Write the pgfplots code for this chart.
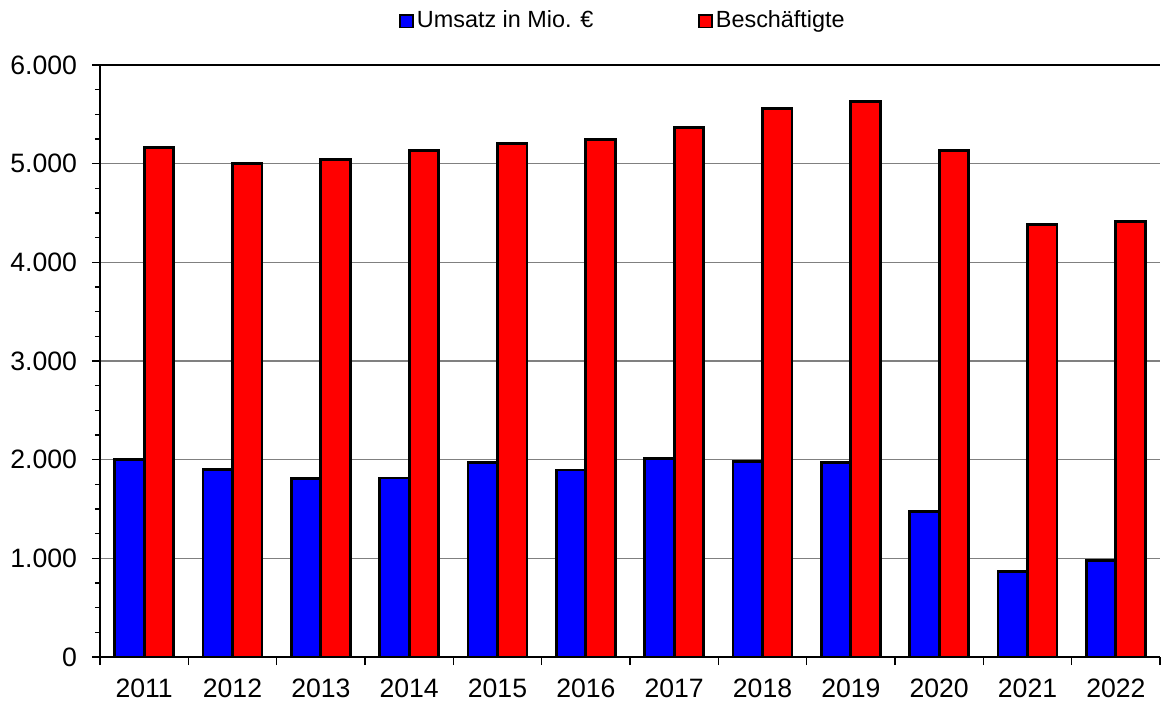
\documentclass[border=0pt]{standalone}
\usepackage{pgfplots}
\pgfplotsset{compat=1.18}
\usepackage{fontspec}
\setmainfont{Liberation Sans}
\pgfplotsset{sqlegend/.style={legend image code/.code={\draw[##1, draw=black, line width=0.9pt] (0pt,-3.2pt) rectangle (6.4pt,3.2pt);}}}
\begin{document}
\begin{tikzpicture}
\useasboundingbox (0pt,0pt) rectangle (582.5pt,351pt);
\begin{axis}[
  at={(50pt,22.5pt)}, anchor=south west,
  scale only axis, width=530pt, height=296pt,
  ybar=0pt, bar width=0.334,
  xmin=-0.5, xmax=11.5, ymin=0, ymax=6000,
  axis lines*=left, axis line style={-, line width=0.8pt},
  tick align=outside,
  xtick={-0.5,0.5,1.5,2.5,3.5,4.5,5.5,6.5,7.5,8.5,9.5,10.5,11.5},
  xticklabels={},
  extra x ticks={0,1,2,3,4,5,6,7,8,9,10,11},
  extra x tick labels={2011,2012,2013,2014,2015,2016,2017,2018,2019,2020,2021,2022},
  extra x tick style={major tick length=0pt, grid=none},
  ytick={0,1000,2000,3000,4000,5000,6000},
  minor y tick num=3,
  major tick length=4pt, minor tick length=2.5pt,
  ymajorgrids, grid style={gray, line width=0.6pt},
  tick style={black, line width=0.8pt},
  scaled y ticks=false,
  /pgf/number format/.cd, 1000 sep={.}, assume math mode=true,
  /pgfplots/.cd,
  ticklabel style={font=\fontsize{13.3}{16}\selectfont},
  xticklabel style={yshift=-7.5pt},
  yticklabel style={xshift=-4pt},
  legend style={at={(0.282,1.0743)}, anchor=west, draw=none, fill=none,
    inner sep=0pt, font=\fontsize{11.7}{13}\selectfont,
    nodes={inner xsep=1.5pt, inner ysep=1pt},
    /tikz/every even column/.append style={column sep=51pt}},
  legend columns=2, legend cell align=left,
]
\addplot[fill={rgb,255:red,0;green,0;blue,255}, draw=black, line width=1.4pt, sqlegend]
  coordinates {(0,2000) (1,1900) (2,1810) (3,1815) (4,1970) (5,1895) (6,2010) (7,1978) (8,1975) (9,1472) (10,864) (11,976)};
\addlegendentry{Umsatz in Mio. €}
\addplot[fill={rgb,255:red,255;green,0;blue,0}, draw=black, line width=1.4pt, sqlegend]
  coordinates {(0,5160) (1,5002) (2,5042) (3,5130) (4,5205) (5,5245) (6,5367) (7,5562) (8,5633) (9,5137) (10,4387) (11,4414)};
\addlegendentry{Beschäftigte}
\draw[black, line width=0.6pt] (rel axis cs:0,1) -- (rel axis cs:1,1);
\end{axis}
\end{tikzpicture}
\end{document}
